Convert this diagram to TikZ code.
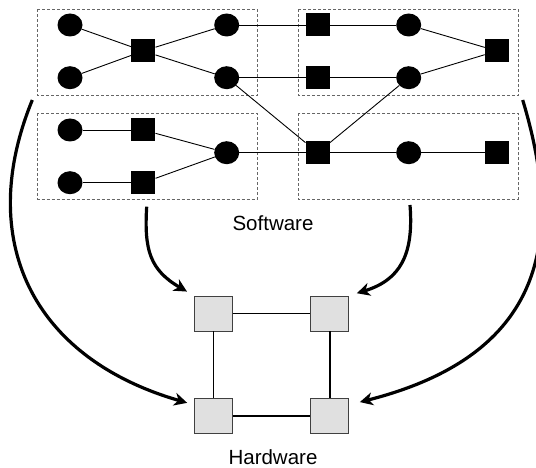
\documentclass[tikz,border=0pt]{standalone}
\usepackage{fontspec}
\setmainfont{Liberation Sans}
\usetikzlibrary{arrows.meta,shapes.geometric}

\tikzset{
	dot/.style={shape=ellipse, fill=black, draw=none, minimum width=25pt, minimum height=23pt, inner sep=0pt},
	blk/.style={shape=rectangle, fill=black, draw=none, minimum width=24pt, minimum height=23pt, inner sep=0pt},
	proc/.style={shape=rectangle, fill=black!12, draw=black!75, line width=0.8pt, minimum width=38pt, minimum height=35pt, inner sep=0pt},
	group/.style={draw=black!60, dashed, dash pattern=on 3pt off 2pt, line width=0.8pt},
	link/.style={-, line width=0.9pt},
	bus/.style={-, line width=1.6pt},
	map/.style={-{Stealth[length=13pt,width=13pt,inset=4pt]}, line width=3.2pt},
}

\begin{document}
\begin{tikzpicture}[x=1pt, y=-1pt]
	
	\useasboundingbox (0,0) rectangle (536,468);
	
	% software groups
	\draw[group] (37.7,9.3) rectangle (257.3,95.7);
	\draw[group] (37.7,113.3) rectangle (257.3,199.3);
	\draw[group] (298.3,9.3) rectangle (518.3,95.7);
	\draw[group] (298.3,113.3) rectangle (518.3,199.3);
	
	\node[dot] (a1) at (70, 25)    {};
	\node[dot] (a2) at (70, 77.7)  {};
	\node[blk] (a3) at (143.3, 51) {};
	\node[dot] (a4) at (226.7, 25) {};
	\node[dot] (a5) at (226.7, 77.7) {};
	
	\node[blk] (b1) at (317.7, 25)   {};
	\node[blk] (b2) at (317.7, 77.7) {};
	\node[dot] (b3) at (408.7, 25)   {};
	\node[dot] (b4) at (408.7, 77.7) {};
	\node[blk] (b5) at (497, 51)     {};
	
	\node[dot] (c1) at (70, 130)      {};
	\node[dot] (c2) at (70, 182.7)    {};
	\node[blk] (c3) at (143.3, 130)   {};
	\node[blk] (c4) at (143.3, 182.7) {};
	\node[dot] (c5) at (226.7, 152.7) {};
	
	\node[blk] (d1) at (317.7, 152.7) {};
	\node[dot] (d2) at (408.7, 152.7) {};
	\node[blk] (d3) at (497, 152.7)   {};
	
	\path[link] (a1) edge (a3);
	\path[link] (a2) edge (a3);
	\path[link] (a3) edge (a4);
	\path[link] (a3) edge (a5);
	\path[link] (a4) edge (b1);
	\path[link] (b1) edge (b3);
	\path[link] (b3) edge (b5);
	\path[link] (a5) edge (b2);
	\path[link] (b2) edge (b4);
	\path[link] (b4) edge (b5);
	\path[link] (a5) edge (d1);
	\path[link] (d1) edge (b4);
	\path[link] (c1) edge (c3);
	\path[link] (c2) edge (c4);
	\path[link] (c3) edge (c5);
	\path[link] (c4) edge (c5);
	\path[link] (c5) edge (d1);
	\path[link] (d1) edge (d2);
	\path[link] (d2) edge (d3);
	
	\node (sw) at (273, 222.7) {\fontsize{20.5}{24}\selectfont Software};
	
	% hardware
	\node[proc] (hwa) at (213.3, 313.5) {};
	\node[proc] (hwb) at (329.8, 313.5) {};
	\node[proc] (hwc) at (213.3, 416)   {};
	\node[proc] (hwd) at (329.8, 416)   {};
	
	\path[bus] (hwa) edge (hwb);
	\path[bus] (hwa) edge (hwc);
	\path[bus] (hwb) edge (hwd);
	\path[bus] (hwc) edge (hwd);
	
	\node (hw) at (273, 456.7) {\fontsize{20.5}{24}\selectfont Hardware};
	
	% mappings
	\coordinate (ml) at (146.7, 206.7);
	\coordinate (mr) at (410, 205);
	\coordinate (ol) at (32.3, 100);
	\coordinate (or) at (522.7, 100);
	
	\draw[map, shorten >=8pt] (ml) .. controls (144, 250) and (150, 270) .. (hwa.north west);
	\draw[map, shorten >=8pt] (mr) .. controls (414, 255) and (400, 280) .. (hwb.north east);
	\draw[map, shorten >=7pt] (ol) .. controls (-25, 240) and (32, 358) .. (hwc.150);
	\draw[map, shorten >=11pt] (or) .. controls (565, 240) and (545, 355) .. (hwd.30);
	
\end{tikzpicture}
\end{document}
